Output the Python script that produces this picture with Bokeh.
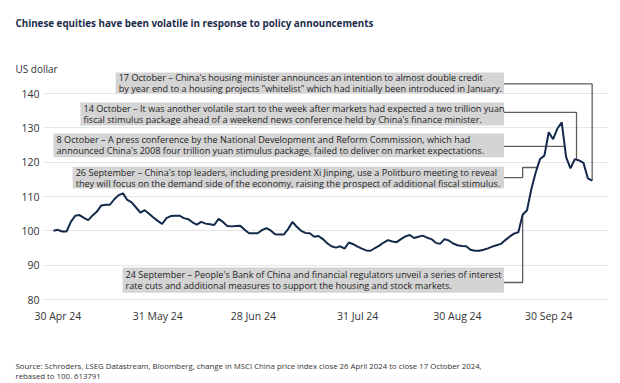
import numpy as np
from bokeh.plotting import figure
from bokeh.models import FixedTicker, Title
from bokeh.embed import file_html
from bokeh.resources import INLINE
from bokeh.core.properties import value

# MSCI China price index, rebased to 100 (26 Apr 2024 .. 17 Oct 2024, trading days)
values = [
    100.0, 100.3, 99.8, 99.8, 102.6, 104.4, 104.6, 103.8, 103.1, 104.5,
    105.6, 107.4, 107.6, 107.6, 109.2, 110.4, 110.9, 109.0, 108.3, 106.8,
    105.3, 106.0, 105.0, 103.9, 102.9, 102.0, 103.7, 104.3, 104.4, 104.4,
    103.7, 103.4, 102.5, 101.8, 102.6, 102.1, 101.9, 101.7, 103.5, 102.6,
    101.4, 101.3, 101.4, 101.5, 100.3, 99.3, 99.3, 99.3, 100.2, 100.8,
    100.1, 99.0, 98.9, 98.9, 100.5, 102.6, 101.2, 100.0, 99.4, 99.3,
    98.3, 98.5, 97.6, 96.4, 95.5, 95.1, 95.5, 94.8, 96.6, 96.1,
    95.4, 94.8, 94.3, 94.2, 95.0, 95.7, 96.6, 97.3, 96.9, 96.7,
    97.6, 98.4, 98.8, 97.9, 98.3, 98.6, 98.0, 97.6, 96.5, 96.2,
    97.6, 97.2, 96.3, 95.8, 95.6, 95.5, 94.5, 94.2, 94.2, 94.5,
    94.9, 95.4, 95.8, 96.2, 97.3, 98.3, 99.2, 99.6, 104.7, 106.0,
    112.2, 117.0, 120.9, 121.9, 128.7, 126.7, 129.8, 131.6, 121.5, 118.2,
    120.9, 120.5, 119.8, 115.3, 114.6,
]
x_ticks = [1, 24, 46, 70, 93, 114]
x_tick_labels = ["30 Apr 24", "31 May 24", "28 Jun 24", "31 Jul 24", "30 Aug 24", "30 Sep 24"]
y_ticks = [80, 90, 100, 110, 120, 130, 140]

note_line1 = [
    "17 October \u2013 China's housing minister announces an intention to almost double credit",
    "14 October \u2013 It was another volatile start to the week after markets had expected a two trillion yuan",
    "8 October \u2013 A press conference by the National Development and Reform Commission, which had",
    "26 September \u2013 China's top leaders, including president Xi Jinping, use a Politburo meeting to reveal",
    "24 September \u2013 People's Bank of China and financial regulators unveil a series of interest",
]
note_line2 = [
    "by year end to a housing projects \"whitelist\" which had initially been introduced in January.",
    "fiscal stimulus package ahead of a weekend news conference held by China's finance minister.",
    "announced China's 2008 four trillion yuan stimulus package, failed to deliver on market expectations.",
    "they will focus on the demand side of the economy, raising the prospect of additional fiscal stimulus.",
    "rate cuts and additional measures to support the housing and stock markets.",
]

title_text = "Chinese equities have been volatile in response to policy announcements"
unit_text = "US dollar"
source_1 = "Source: Schroders, LSEG Datastream, Bloomberg, change in MSCI China price index close 26 April 2024 to close 17 October 2024,"
source_2 = "rebased to 100. 613791"

idx = np.arange(len(values))

# ---- annotation layout (data space) ----
box_left = [14.3, 6.2, 0.0, 4.4, 15.9]
box_right = [103.7] * 5
box_top = [146.1, 137.4, 128.35, 118.7, 89.3]
box_bottom = [140.0, 130.7, 121.4, 112.3, 82.0]
half_gap = 1.6

def at(x):
    return float(np.interp(x, idx, values))

conn_xs = [
    [103.7, 124.0, 124.0],
    [103.7, 120.4, 120.4],
    [103.7, 117.6],
    [103.7, 108.0, 108.0, 111.3],
    [103.7, 108.0, 108.0],
]
conn_ys = [
    [142.8, 142.8, at(124.0)],
    [134.5, 134.5, at(120.4)],
    [124.6, 124.6],
    [115.5, 115.5, 118.45, 118.45],
    [84.95, 84.95, at(108.0)],
]

p = figure(width=620, height=383, output_backend="svg", toolbar_location=None,
           x_range=(-2.30, 127.76), y_range=(79.71, 146.41),
           min_border_left=43, min_border_right=12, min_border_top=71, min_border_bottom=83)
p.outline_line_color = None
p.background_fill_color = "white"
p.border_fill_color = "white"

p.xgrid.grid_line_color = None
p.ygrid.ticker = FixedTicker(ticks=y_ticks)
p.ygrid.grid_line_color = "#e6e6e6"
p.ygrid.grid_line_width = 1

p.yaxis.ticker = FixedTicker(ticks=y_ticks)
p.xaxis.ticker = FixedTicker(ticks=x_ticks)
p.xaxis.major_label_overrides = {t: l for t, l in zip(x_ticks, x_tick_labels)}
for ax in (p.xaxis, p.yaxis):
    ax.axis_line_color = None
    ax.major_tick_line_color = None
    ax.minor_tick_line_color = None
    ax.major_tick_out = 0
    ax.major_tick_in = 0
    ax.major_label_text_font = "Open Sans"
    ax.major_label_text_font_size = "10.5px"
    ax.major_label_text_color = "#333333"
p.yaxis.major_label_standoff = 4
p.xaxis.major_label_standoff = 8

p.multi_line(xs=conn_xs, ys=conn_ys, line_color="#5f5f5f", line_width=1.3)
p.line(idx, values, line_color="#13294b", line_width=2)
p.quad(left=box_left, right=box_right, top=box_top, bottom=box_bottom,
       fill_color="#d4d4d4", line_color=None)
mid = [(t + b) / 2 for t, b in zip(box_top, box_bottom)]
tx = [l + 0.7 for l in box_left]
p.text(x=tx + tx, y=[m + half_gap for m in mid] + [m - half_gap for m in mid],
       text=note_line1 + note_line2, text_font=value("Open Sans"),
       text_font_size="9.1px", text_color="#1e1e1e", text_baseline="middle", text_align="left")

# ---- side panels: unit label, title, source (first added = nearest the frame) ----
def side_title(text, size, standoff, style="normal", color="#333333"):
    return Title(text=text, align="left", offset=-28, standoff=standoff,
                 text_font="Open Sans", text_font_style=style, text_font_size=size,
                 text_color=color)

p.add_layout(side_title(unit_text, "10px", -9), "above")
p.add_layout(side_title(".", "4px", 30, color="#ffffff"), "above")   # white spacer panel
p.add_layout(side_title(title_text, "9.8px", 0, style="bold", color="#1c2d4a"), "above")

p.add_layout(side_title(".", "4px", 28, color="#ffffff"), "below")   # white spacer panel
p.add_layout(side_title(source_1, "7.8px", 0), "below")
p.add_layout(side_title(source_2, "7.8px", -3), "below")

open("out.html", "w").write(file_html(p, INLINE))
